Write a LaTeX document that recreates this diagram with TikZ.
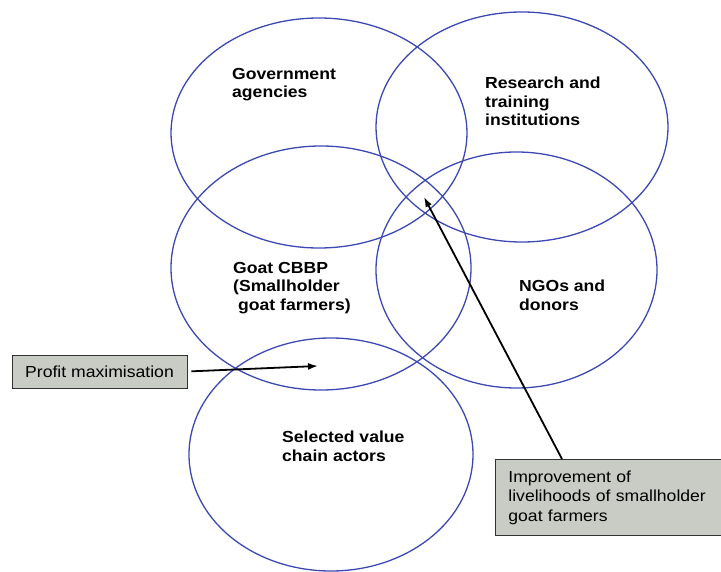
\documentclass[tikz,border=0pt]{standalone}
\usepackage{fontspec}
\setmainfont{Liberation Sans}[FakeStretch=1.1]
\usetikzlibrary{shapes.geometric,arrows.meta}
\definecolor{ringblue}{RGB}{60,72,180}
\definecolor{boxgray}{RGB}{200,204,196}
\begin{document}
\begin{tikzpicture}[x=1pt,y=-1pt,
  ring/.style={ellipse, draw=ringblue, line width=1.3pt, inner sep=0pt},
  lbl/.style={anchor=north west, align=left, inner sep=0pt, font=\fontsize{16}{18.5}\selectfont\bfseries},
  callout/.style={draw=black!80, fill=boxgray, line width=0.8pt, font=\fontsize{16}{19.5}\selectfont},
  pointer/.style={-{Latex[length=10pt,width=7pt]}, line width=1.8pt, black}]
\useasboundingbox (0,0) rectangle (721,572);
% circles
\node[ring, minimum width=296pt, minimum height=230pt] (gov) at (319,133) {};
\node[ring, minimum width=292pt, minimum height=230pt] (res) at (522,127) {};
\node[ring, minimum width=300pt, minimum height=244pt] (cbbp) at (321,268) {};
\node[ring, minimum width=281pt, minimum height=236pt] (ngo) at (516.5,270) {};
\node[ring, minimum width=284pt, minimum height=233pt] (vca) at (331,454.5) {};
% labels
\node[lbl] (tgov) at (232,68) {Government\\agencies};
\node[lbl] (tres) at (485,77) {Research and\\training\\institutions};
\node[lbl] (tcbbp) at (233,262) {Goat CBBP\\(Smallholder\\\hspace*{5pt}goat farmers)};
\node[lbl] (tngo) at (519,280) {NGOs and\\donors};
\node[lbl] (tvca) at (282,431) {Selected value\\chain actors};
% callouts
\node[callout, minimum width=175pt, minimum height=33pt, inner sep=0pt] (profit) at (99.5,371.5) {Profit maximisation};
\coordinate (ptip) at (318,366);
\draw[pointer, shorten <=4pt] (profit.east) -- (ptip);
\node[callout, anchor=north west, minimum width=226pt, minimum height=76pt, text width=200pt, align=left, inner xsep=13pt, inner ysep=0pt] (impr) at (495,459) {Improvement of\\livelihoods of smallholder\\goat farmers};
\coordinate (itip) at (424,197);
\draw[pointer] ([xshift=67pt]impr.north west) -- (itip);
\end{tikzpicture}
\end{document}
